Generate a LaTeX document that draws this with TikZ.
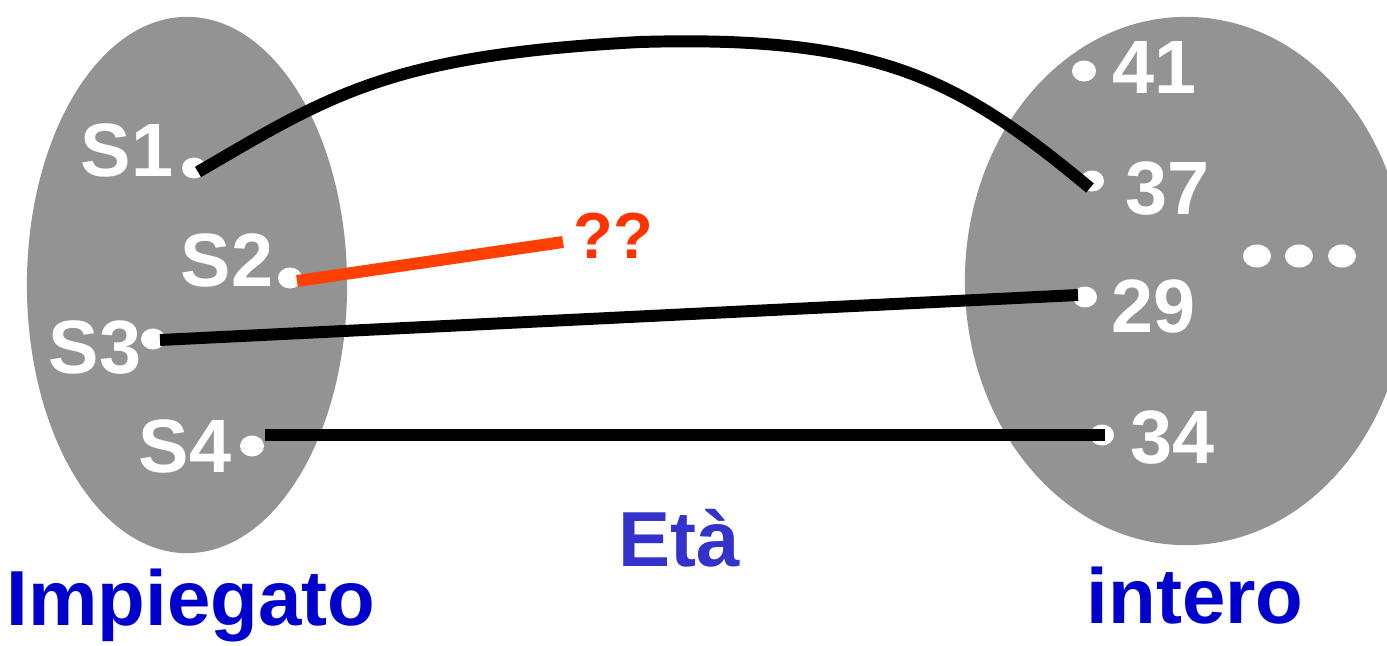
\documentclass[tikz,border=0pt]{standalone}
\usepackage{fontspec}
\setmainfont{Liberation Sans}
\usetikzlibrary{shapes.geometric,calc}
\definecolor{setgray}{RGB}{147,147,147}
\definecolor{entblue}{RGB}{0,0,204}
\definecolor{relblue}{RGB}{51,51,204}
\definecolor{qred}{RGB}{255,51,0}
\definecolor{lred}{RGB}{255,64,0}
\tikzset{
  setshape/.style={ellipse, fill=setgray, draw=none, inner sep=0},
  dot/.style={ellipse, fill=white, draw=none, inner sep=0, minimum width=0.24cm, minimum height=0.21cm},
  bigdot/.style={ellipse, fill=white, draw=none, inner sep=0, minimum width=0.28cm, minimum height=0.23cm},
  wlabel/.style={anchor=base west, inner sep=0, text=white, font=\fontsize{21.5}{21.5}\selectfont\bfseries},
  blabel/.style={anchor=base west, inner sep=0, text=entblue, font=\fontsize{22.2}{22.2}\selectfont\bfseries},
  link/.style={line width=3.4pt, black},
}
\begin{document}
\begin{tikzpicture}[x=0.01cm, y=-0.01cm]
\useasboundingbox (0,0) rectangle (1387,645);
\clip (0,0) rectangle (1387,645);
% sets
\node[setshape, minimum width=3.2cm, minimum height=5.36cm] (emp) at (187,285) {};
\node[setshape, minimum width=4.42cm, minimum height=5.28cm] (int) at (1186,281) {};
% dots
\node[dot] (d1) at (194,168) {};
\node[dot] (d2) at (290,278) {};
\node[dot] (d3) at (153,339) {};
\node[dot] (d4) at (252,446) {};
\node[dot] (d41) at (1084,71) {};
\node[dot] (d37) at (1092,181) {};
\node[dot] (d29) at (1085,297) {};
\node[dot] (d34) at (1102,435) {};
\node[bigdot] (e1) at (1257,256) {};
\node[bigdot] (e2) at (1299,256) {};
\node[bigdot] (e3) at (1342,256) {};
% labels
\node[wlabel] (s1) at (80,176) {S1};
\node[wlabel] (s2) at (180,286) {S2};
\node[wlabel] (s3) at (48,373) {S3};
\node[wlabel] (s4) at (138,472) {S4};
\node[wlabel] (n41) at (1112,93) {41};
\node[wlabel] (n37) at (1125,214) {37};
\node[wlabel] (n29) at (1111,332) {29};
\node[wlabel] (n34) at (1130,463) {34};
\node[anchor=base west, inner sep=0, text=qred, font=\fontsize{18.5}{18.5}\selectfont\bfseries] (qq) at (573,258) {??};
\node[blabel] (imp) at (6,625) {Impiegato};
\node[blabel] (inte) at (1086,623) {intero};
\node[blabel, text=relblue] (eta) at (618,566) {Età};
% connectors
\coordinate (c1) at ($(d1.center)+(4,4)$);
\coordinate (c37) at ($(d37.center)+(-2,7)$);
\draw[link] (c1) .. controls (330,95) and (390,55) .. (640,42) .. controls (880,35) and (960,80) .. (c37);
\coordinate (qend) at (563,242);
\draw[line width=3.4pt, lred] ($(d2.center)+(7,3)$) -- (qend);
\draw[link] ($(d3.center)+(7,1)$) -- ($(d29.center)+(-7,-2)$);
\draw[link] ($(d4.east)+(0,-11)$) -- ($(d34.center)+(3,0)$);
\end{tikzpicture}
\end{document}
